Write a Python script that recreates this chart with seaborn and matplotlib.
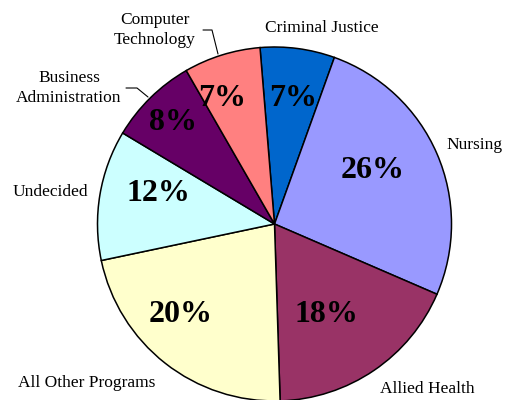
# Enrollment share by program - pie chart

import numpy as np
import seaborn as sns
import matplotlib.pyplot as plt

programs = ["Criminal Justice", "Nursing", "Allied Health", "All Other Programs",
            "Undecided", "Business\nAdministration", "Computer\nTechnology"]
shares = [6.8, 26.0, 18.0, 22.2, 11.9, 8.1, 7.0]
pct_labels = ["7%", "26%", "18%", "20%", "12%", "8%", "7%"]
colours = ["#0066CC", "#9999FF", "#993366", "#FFFFCC", "#CCFFFF", "#660066", "#FF8080"]

# label positions in pixels of the 505x400 picture
CX, CY, R = 274.5, 224.0, 177.0
pct_pos = [(293, 99), (373, 171), (326, 314), (181, 314), (158, 194), (173, 123), (222, 99)]
name_pos = [(322, 28, "center"), (446, 145, "left"), (380, 389, "left"), (18, 383, "left"),
            (13, 192, "left"), (69, 88, "center"), (155, 30, "center")]


def px(x, y):
    """Pixel position -> data units of the pie axes."""
    return (x - CX) / R, (CY - y) / R


def main():
    sns.set_theme(style="white")
    plt.rcParams['font.family'] = ['Liberation Serif', 'DejaVu Serif']

    fig = plt.figure(figsize=(5.05, 4.0), dpi=100)
    ax = fig.add_axes([(CX - R) / 505, (400 - CY - R) / 400, 2 * R / 505, 2 * R / 400])
    ax.pie(shares, colors=sns.color_palette(colours), startangle=94.7,
           counterclock=False, radius=1,
           wedgeprops=dict(edgecolor="black", linewidth=1.1))
    ax.set_xlim(-1, 1)
    ax.set_ylim(-1, 1)
    ax.set_aspect("equal")
    ax.axis("off")

    for lab, (x, y) in zip(pct_labels, pct_pos):
        ax.text(*px(x, y), lab, ha="center", va="center", fontsize=23,
                fontweight="bold", color="black")

    for name, (x, y, ha) in zip(programs, name_pos):
        ax.text(*px(x, y), name, ha=ha, va="center", fontsize=12.5,
                linespacing=1.4, color="black")

    # leader lines
    for pts in [[(203, 30), (212, 30), (218, 54)], [(126, 88), (137, 88), (148, 97)]]:
        xs, ys = zip(*[px(a, b) for a, b in pts])
        ax.plot(xs, ys, color="black", lw=0.8, clip_on=False)

    fig.savefig("out.png", dpi=100)


if __name__ == "__main__":
    main()
